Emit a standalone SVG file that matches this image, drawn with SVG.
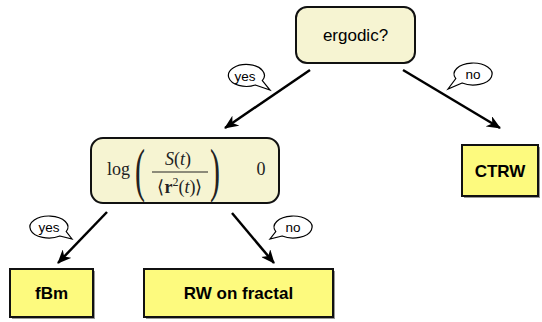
<svg xmlns="http://www.w3.org/2000/svg" width="542" height="322" viewBox="0 0 542 322">
<defs>
<marker id="arr" viewBox="0 0 14 12" refX="13" refY="6" markerWidth="14" markerHeight="12" markerUnits="userSpaceOnUse" orient="auto">
<path d="M0,0 L14,6 L0,12 L4,6 z" fill="#000"/>
</marker>
<style>
.q{fill:#f6f4d2;stroke:#111;stroke-width:2}
.leaf{fill:#fdfa7e;stroke:#111;stroke-width:2}
.sh{fill:#999}
.lbl{font-family:"Liberation Sans",Arial,sans-serif;fill:#000}
.bold{font-weight:bold;font-size:17px}
.bub{fill:#fff;stroke:#000;stroke-width:1.2}
.bt{font-family:"Liberation Sans",Arial,sans-serif;font-size:13.5px;fill:#000}
.m{font-family:"Liberation Serif","Times New Roman",serif;fill:#222}
.c{stroke:#000;stroke-width:2.5;fill:none;marker-end:url(#arr)}
</style>
</defs>
<rect width="542" height="322" fill="#fff"/>

<g id="connectors">
<line class="c" x1="310" y1="70" x2="225" y2="128"/>
<line class="c" x1="403" y1="70" x2="500" y2="128"/>
<line class="c" x1="107" y1="212" x2="58" y2="263"/>
<line class="c" x1="232" y1="213" x2="274" y2="263"/>
</g>

<g id="ergodic">
<rect class="q" x="296" y="7" width="119" height="56" rx="11"/>
<text class="lbl" x="355.5" y="41" font-size="17" text-anchor="middle">ergodic?</text>
</g>

<g id="condition">
<rect class="q" x="91" y="138" width="188" height="65" rx="12"/>
<text class="m" x="107" y="175" font-size="18">log</text>
<text class="m" transform="translate(135,190) scale(0.5,1)" font-size="60" font-family="'DejaVu Serif',serif">(</text>
<text class="m" x="178" y="165" font-size="18" text-anchor="middle"><tspan font-style="italic">S</tspan>(<tspan font-style="italic">t</tspan>)</text>
<line x1="152" y1="172" x2="208" y2="172" stroke="#222" stroke-width="1"/>
<text class="m" x="180" y="193" font-size="18" text-anchor="middle">⟨<tspan font-weight="bold">r</tspan><tspan font-size="12" dy="-7">2</tspan><tspan dy="7">(</tspan><tspan font-style="italic">t</tspan>)⟩</text>
<text class="m" transform="translate(210,190) scale(0.5,1)" font-size="60" font-family="'DejaVu Serif',serif">)</text>
<text class="m" x="261" y="175" font-size="18" text-anchor="middle">0</text>
</g>

<g id="ctrw">
<rect class="sh" x="464" y="147" width="76" height="51"/>
<rect class="leaf" x="462" y="145" width="76" height="51"/>
<text class="lbl bold" x="500" y="177" text-anchor="middle">CTRW</text>
</g>

<g id="fbm">
<rect class="sh" x="12" y="271" width="83" height="48"/>
<rect class="leaf" x="10" y="269" width="83" height="48"/>
<text class="lbl bold" x="51.5" y="299" text-anchor="middle">fBm</text>
</g>

<g id="rwfractal">
<rect class="sh" x="146" y="271" width="189" height="48"/>
<rect class="leaf" x="144" y="269" width="189" height="48"/>
<text class="lbl bold" x="238.5" y="299" text-anchor="middle">RW on fractal</text>
</g>

<g id="bubble-yes-top">
<path class="bub" d="M255.3,85.0 L270,90 L262.3,80.6 A18 11 0 1 0 255.3,85.0 Z"/>
<text class="bt" x="245" y="81" text-anchor="middle">yes</text>
</g>
<g id="bubble-no-top">
<path class="bub" d="M462.1,83.0 L448,89 L455.8,78.6 A19 11 0 1 1 462.1,83.0 Z"/>
<text class="bt" x="473" y="79" text-anchor="middle">no</text>
</g>
<g id="bubble-yes-bottom">
<path class="bub" d="M59.9,236.0 L72,239 L66.2,231.6 A19 11 0 1 0 59.9,236.0 Z"/>
<text class="bt" x="49" y="231.5" text-anchor="middle">yes</text>
</g>
<g id="bubble-no-bottom">
<path class="bub" d="M282.1,236.0 L270,239 L275.8,231.6 A19 11 0 1 1 282.1,236.0 Z"/>
<text class="bt" x="293" y="231.5" text-anchor="middle">no</text>
</g>
</svg>
